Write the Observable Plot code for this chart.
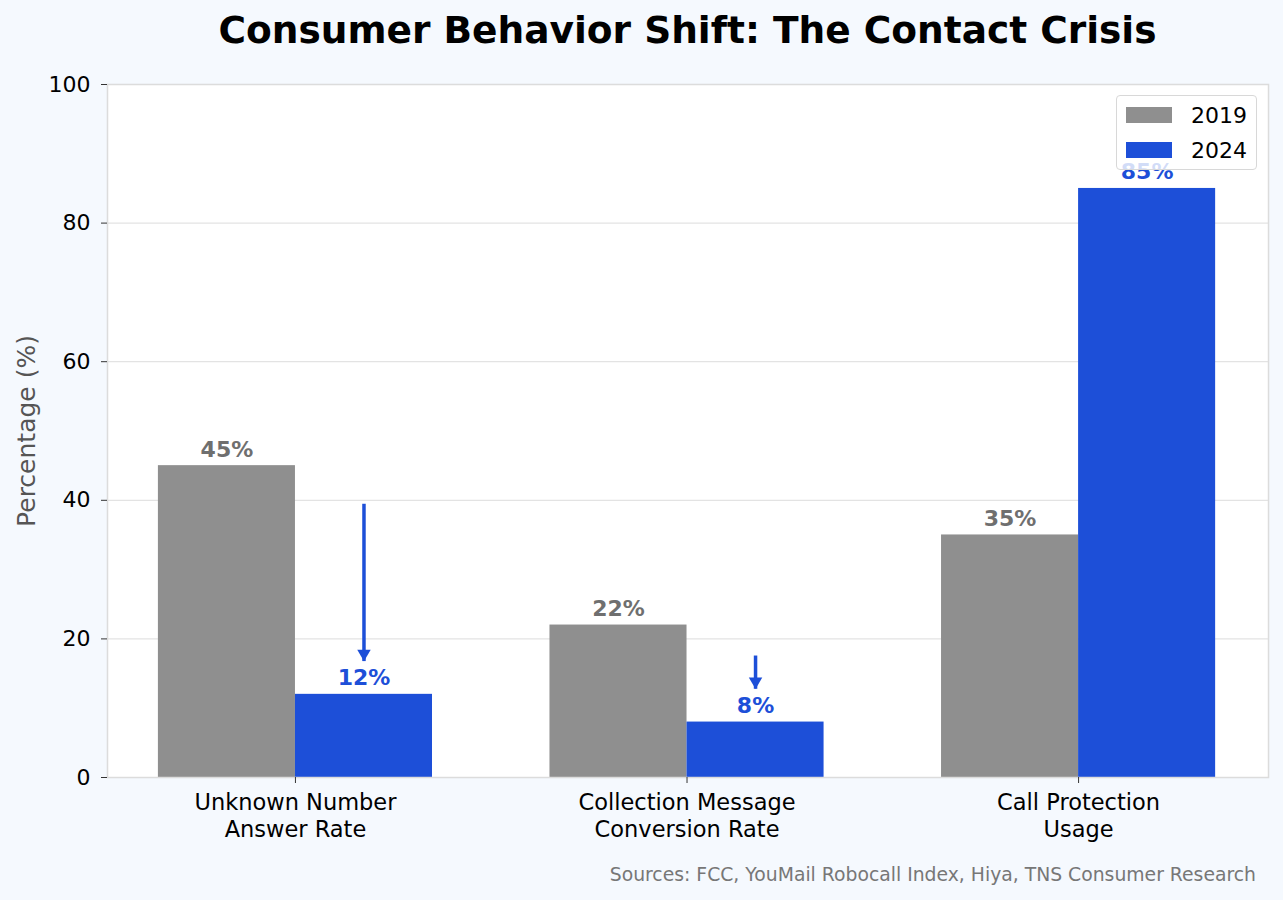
<!DOCTYPE html>
<html>
<head>
<meta charset="utf-8">
<script src="https://cdn.jsdelivr.net/npm/d3@7"></script>
<script src="https://cdn.jsdelivr.net/npm/@observablehq/plot@0.6"></script>
<style>
  body { margin: 0; background: #f5f9fe; font-family: "DejaVu Sans", sans-serif; }
  #wrap { position: relative; width: 1283px; height: 900px; }
  #title { position: absolute; left: 107px; width: 1161px; top: 8px; text-align: center; font-weight: bold; font-size: 37.5px; color: #000; }
  #chart { position: absolute; left: 0; top: 60px; }
  #legend { position: absolute; left: 1116px; top: 95px; width: 139px; height: 73px; background: rgba(255,255,255,0.8); border: 1px solid #d8d8d8; border-radius: 4px; box-sizing: content-box; }
  .item { position: absolute; left: 9px; height: 22px; display: flex; align-items: center; font-size: 22px; color: #000; }
  .sw { width: 46px; height: 16px; margin-right: 19px; }
  #caption { position: absolute; right: 27px; top: 864px; font-size: 18.8px; color: #777; }
</style>
</head>
<body>
<div id="wrap">
  <div id="title">Consumer Behavior Shift: The Contact Crisis</div>
  <div id="chart"></div>
  <div id="legend"></div>
  <div id="caption">Sources: FCC, YouMail Robocall Index, Hiya, TNS Consumer Research</div>
</div>
<script>
const categories = ["Unknown Number\nAnswer Rate", "Collection Message\nConversion Rate", "Call Protection\nUsage"];
const years = ["2019", "2024"];
const values2019 = [45, 22, 35];
const values2024 = [12, 8, 85];
const arrowCats = [0, 1];
const arrowStart = [39.5, 17.6];
const arrowEnd = [16.8, 12.8];
const yTicks = [0, 20, 40, 60, 80, 100];

const barColors = ["#8f8f8f", "#1d4fd8"];
const labelColors = ["#6f6f6f", "#1d4fd8"];
const barWidth = 0.35;

const rows = [];
categories.forEach((c, i) => {
  [values2019, values2024].forEach((vals, j) => {
    rows.push({cat: i, year: years[j], value: vals[i], x1: i + (j - 1) * barWidth, x2: i + j * barWidth});
  });
});
const arrows = arrowCats.map((c, k) => ({x: c + barWidth / 2, y1: arrowStart[k], y2: arrowEnd[k]}));

const chart = Plot.plot({
  width: 1283,
  height: 787,
  marginLeft: 107,
  marginRight: 15,
  marginTop: 24,
  marginBottom: 70,
  style: {background: "transparent", fontFamily: "DejaVu Sans", fontSize: "22px", color: "#000", overflow: "visible"},
  x: {domain: [-0.48, 2.485], axis: null},
  y: {domain: [0, 100], axis: null},
  color: {domain: years, range: barColors},
  marks: [
    Plot.frame({fill: "white"}),
    Plot.gridY(yTicks, {stroke: "#e3e3e3", strokeOpacity: 1, strokeWidth: 1.2}),
    Plot.rectY(rows, {x1: "x1", x2: "x2", y1: 0, y2: "value", fill: "year"}),
    Plot.frame({stroke: "#dcdcdc", strokeWidth: 1.5}),
    Plot.axisY(yTicks, {tickSize: 6, tickPadding: 11, fontSize: 22, label: null, stroke: "#333", fill: "#000"}),
    Plot.axisX([0, 1, 2], {tickSize: 6, tickPadding: 8, fontSize: 22.5, lineHeight: 1.17, label: null, stroke: "#333", fill: "#000", tickFormat: i => categories[i]}),
    ...years.map((yr, j) => Plot.text(rows.filter(d => d.year === yr), {
      x: d => (d.x1 + d.x2) / 2, y: "value", text: d => d.value + "%",
      lineAnchor: "bottom", dy: -9, fontSize: 22, fontWeight: "bold", fill: labelColors[j]
    })),
    Plot.link(arrows, {x1: "x", x2: "x", y1: "y1", y2: "y2", stroke: barColors[1], strokeWidth: 3.5, insetBottom: 8}),
    Plot.dot(arrows, {x: "x", y: "y2", symbol: "triangle", rotate: 180, r: 5, dy: -7.5, fill: barColors[1], stroke: "none"}),
    Plot.text(["Percentage (%)"], {frameAnchor: "left", textAnchor: "middle", dx: -81, rotate: -90, fontSize: 25, fill: "#555"})
  ]
});
document.getElementById("chart").appendChild(chart);

const legend = document.getElementById("legend");
years.forEach((yr, j) => {
  const it = document.createElement("div");
  it.className = "item";
  it.style.top = (8 + j * 35) + "px";
  it.innerHTML = `<span class="sw" style="background:${barColors[j]}"></span><span>${yr}</span>`;
  legend.appendChild(it);
});
</script>
</body>
</html>
